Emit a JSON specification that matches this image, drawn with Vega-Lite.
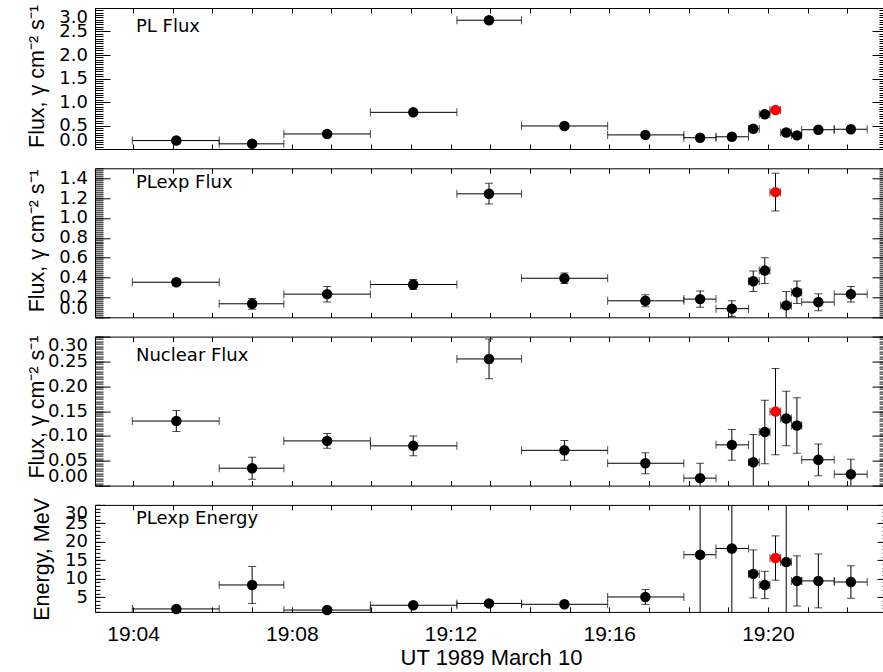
{
  "$schema": "https://vega.github.io/schema/vega-lite/v6.json",
  "padding": {"left": 25, "top": 4, "right": 0, "bottom": 0},
  "background": "white",
  "config": {
    "font": "Liberation Sans",
    "view": {"stroke": "black", "strokeWidth": 1},
    "scale": {"continuousPadding": 0},
    "axis": {"domain": false, "grid": false, "tickColor": "black", "tickWidth": 1, "labelColor": "black", "titleColor": "black", "titleFontWeight": "normal"},
    "text": {"font": "DejaVu Sans", "fontSize": 18, "color": "black", "align": "left", "baseline": "alphabetic"}
  },
  "datasets": {
    "p1": [
      {"xc": 5.09, "xlo": 3.98, "xhi": 6.17, "v": 0.18, "lo": 0.16, "hi": 0.20, "k": "b"},
      {"xc": 7.00, "xlo": 6.17, "xhi": 7.80, "v": 0.11, "lo": 0.09, "hi": 0.13, "k": "b"},
      {"xc": 8.89, "xlo": 7.80, "xhi": 9.98, "v": 0.32, "lo": 0.30, "hi": 0.34, "k": "b"},
      {"xc": 11.06, "xlo": 9.98, "xhi": 12.16, "v": 0.78, "lo": 0.76, "hi": 0.80, "k": "b"},
      {"xc": 12.97, "xlo": 12.16, "xhi": 13.79, "v": 2.74, "lo": 2.71, "hi": 2.77, "k": "b"},
      {"xc": 14.87, "xlo": 13.79, "xhi": 15.96, "v": 0.49, "lo": 0.47, "hi": 0.51, "k": "b"},
      {"xc": 16.91, "xlo": 15.96, "xhi": 17.88, "v": 0.30, "lo": 0.28, "hi": 0.32, "k": "b"},
      {"xc": 18.29, "xlo": 17.88, "xhi": 18.69, "v": 0.24, "lo": 0.21, "hi": 0.27, "k": "b"},
      {"xc": 19.09, "xlo": 18.69, "xhi": 19.51, "v": 0.26, "lo": 0.23, "hi": 0.29, "k": "b"},
      {"xc": 19.63, "xlo": 19.51, "xhi": 19.78, "v": 0.43, "lo": 0.39, "hi": 0.47, "k": "b"},
      {"xc": 19.92, "xlo": 19.78, "xhi": 20.05, "v": 0.74, "lo": 0.70, "hi": 0.78, "k": "b"},
      {"xc": 20.19, "xlo": 20.05, "xhi": 20.32, "v": 0.83, "lo": 0.78, "hi": 0.88, "k": "r"},
      {"xc": 20.46, "xlo": 20.32, "xhi": 20.59, "v": 0.35, "lo": 0.31, "hi": 0.39, "k": "b"},
      {"xc": 20.73, "xlo": 20.59, "xhi": 20.85, "v": 0.29, "lo": 0.25, "hi": 0.33, "k": "b"},
      {"xc": 21.27, "xlo": 20.85, "xhi": 21.67, "v": 0.41, "lo": 0.38, "hi": 0.44, "k": "b"},
      {"xc": 22.09, "xlo": 21.67, "xhi": 22.50, "v": 0.42, "lo": 0.39, "hi": 0.45, "k": "b"}
    ],
    "p2": [
      {"xc": 5.09, "xlo": 3.98, "xhi": 6.17, "v": 0.353, "lo": 0.32, "hi": 0.385, "k": "b"},
      {"xc": 7.00, "xlo": 6.17, "xhi": 7.80, "v": 0.136, "lo": 0.08, "hi": 0.19, "k": "b"},
      {"xc": 8.89, "xlo": 7.80, "xhi": 9.98, "v": 0.233, "lo": 0.155, "hi": 0.31, "k": "b"},
      {"xc": 11.06, "xlo": 9.98, "xhi": 12.16, "v": 0.33, "lo": 0.28, "hi": 0.38, "k": "b"},
      {"xc": 12.97, "xlo": 12.16, "xhi": 13.79, "v": 1.243, "lo": 1.14, "hi": 1.35, "k": "b"},
      {"xc": 14.87, "xlo": 13.79, "xhi": 15.96, "v": 0.393, "lo": 0.34, "hi": 0.445, "k": "b"},
      {"xc": 16.91, "xlo": 15.96, "xhi": 17.88, "v": 0.166, "lo": 0.106, "hi": 0.226, "k": "b"},
      {"xc": 18.29, "xlo": 17.88, "xhi": 18.69, "v": 0.183, "lo": 0.10, "hi": 0.266, "k": "b"},
      {"xc": 19.09, "xlo": 18.69, "xhi": 19.51, "v": 0.087, "lo": 0.007, "hi": 0.167, "k": "b"},
      {"xc": 19.63, "xlo": 19.51, "xhi": 19.78, "v": 0.363, "lo": 0.26, "hi": 0.466, "k": "b"},
      {"xc": 19.92, "xlo": 19.78, "xhi": 20.05, "v": 0.47, "lo": 0.34, "hi": 0.60, "k": "b"},
      {"xc": 20.19, "xlo": 20.05, "xhi": 20.32, "v": 1.26, "lo": 1.07, "hi": 1.45, "k": "r"},
      {"xc": 20.46, "xlo": 20.32, "xhi": 20.59, "v": 0.12, "lo": -0.02, "hi": 0.26, "k": "b"},
      {"xc": 20.73, "xlo": 20.59, "xhi": 20.85, "v": 0.253, "lo": 0.14, "hi": 0.366, "k": "b"},
      {"xc": 21.27, "xlo": 20.85, "xhi": 21.67, "v": 0.153, "lo": 0.066, "hi": 0.236, "k": "b"},
      {"xc": 22.09, "xlo": 21.67, "xhi": 22.50, "v": 0.233, "lo": 0.153, "hi": 0.31, "k": "b"}
    ],
    "p3": [
      {"xc": 5.09, "xlo": 3.98, "xhi": 6.17, "v": 0.13, "lo": 0.109, "hi": 0.151, "k": "b"},
      {"xc": 7.00, "xlo": 6.17, "xhi": 7.80, "v": 0.035, "lo": 0.013, "hi": 0.057, "k": "b"},
      {"xc": 8.89, "xlo": 7.80, "xhi": 9.98, "v": 0.09, "lo": 0.075, "hi": 0.105, "k": "b"},
      {"xc": 11.06, "xlo": 9.98, "xhi": 12.16, "v": 0.08, "lo": 0.06, "hi": 0.10, "k": "b"},
      {"xc": 12.97, "xlo": 12.16, "xhi": 13.79, "v": 0.255, "lo": 0.215, "hi": 0.295, "k": "b"},
      {"xc": 14.87, "xlo": 13.79, "xhi": 15.96, "v": 0.071, "lo": 0.051, "hi": 0.091, "k": "b"},
      {"xc": 16.91, "xlo": 15.96, "xhi": 17.88, "v": 0.045, "lo": 0.024, "hi": 0.066, "k": "b"},
      {"xc": 18.29, "xlo": 17.88, "xhi": 18.69, "v": 0.015, "lo": -0.015, "hi": 0.045, "k": "b"},
      {"xc": 19.09, "xlo": 18.69, "xhi": 19.51, "v": 0.082, "lo": 0.051, "hi": 0.113, "k": "b"},
      {"xc": 19.63, "xlo": 19.51, "xhi": 19.78, "v": 0.047, "lo": -0.009, "hi": 0.103, "k": "b"},
      {"xc": 19.92, "xlo": 19.78, "xhi": 20.05, "v": 0.108, "lo": 0.044, "hi": 0.172, "k": "b"},
      {"xc": 20.19, "xlo": 20.05, "xhi": 20.32, "v": 0.149, "lo": 0.062, "hi": 0.236, "k": "r"},
      {"xc": 20.46, "xlo": 20.32, "xhi": 20.59, "v": 0.135, "lo": 0.08, "hi": 0.19, "k": "b"},
      {"xc": 20.73, "xlo": 20.59, "xhi": 20.85, "v": 0.121, "lo": 0.065, "hi": 0.177, "k": "b"},
      {"xc": 21.27, "xlo": 20.85, "xhi": 21.67, "v": 0.052, "lo": 0.02, "hi": 0.084, "k": "b"},
      {"xc": 22.09, "xlo": 21.67, "xhi": 22.50, "v": 0.023, "lo": -0.007, "hi": 0.053, "k": "b"}
    ],
    "p4": [
      {"xc": 5.09, "xlo": 3.98, "xhi": 6.17, "v": 1.8, "lo": 1.3, "hi": 2.3, "k": "b"},
      {"xc": 7.00, "xlo": 6.17, "xhi": 7.80, "v": 8.3, "lo": 3.3, "hi": 13.3, "k": "b"},
      {"xc": 8.89, "xlo": 7.80, "xhi": 9.98, "v": 1.5, "lo": 1.0, "hi": 2.0, "k": "b"},
      {"xc": 11.06, "xlo": 9.98, "xhi": 12.16, "v": 2.8, "lo": 2.2, "hi": 3.4, "k": "b"},
      {"xc": 12.97, "xlo": 12.16, "xhi": 13.79, "v": 3.3, "lo": 2.6, "hi": 4.0, "k": "b"},
      {"xc": 14.87, "xlo": 13.79, "xhi": 15.96, "v": 3.06, "lo": 2.4, "hi": 3.7, "k": "b"},
      {"xc": 16.91, "xlo": 15.96, "xhi": 17.88, "v": 5.05, "lo": 3.05, "hi": 7.05, "k": "b"},
      {"xc": 18.29, "xlo": 17.88, "xhi": 18.69, "v": 16.5, "lo": -3.5, "hi": 36.5, "k": "b"},
      {"xc": 19.09, "xlo": 18.69, "xhi": 19.51, "v": 18.2, "lo": -1.8, "hi": 38.2, "k": "b"},
      {"xc": 19.63, "xlo": 19.51, "xhi": 19.78, "v": 11.3, "lo": 4.8, "hi": 17.8, "k": "b"},
      {"xc": 19.92, "xlo": 19.78, "xhi": 20.05, "v": 8.3, "lo": 4.6, "hi": 12.0, "k": "b"},
      {"xc": 20.19, "xlo": 20.05, "xhi": 20.32, "v": 15.6, "lo": 9.6, "hi": 21.6, "k": "r"},
      {"xc": 20.46, "xlo": 20.32, "xhi": 20.59, "v": 14.5, "lo": -5.5, "hi": 34.5, "k": "b"},
      {"xc": 20.73, "xlo": 20.59, "xhi": 20.85, "v": 9.4, "lo": 2.6, "hi": 16.2, "k": "b"},
      {"xc": 21.27, "xlo": 20.85, "xhi": 21.67, "v": 9.4, "lo": 2.1, "hi": 16.7, "k": "b"},
      {"xc": 22.09, "xlo": 21.67, "xhi": 22.50, "v": 9.1, "lo": 4.7, "hi": 13.5, "k": "b"}
    ]
  },
  "vconcat": [
    {
      "width": 792, "height": 141,
      "data": {"name": "p1"},
      "layer": [
        {"mark": {"type": "errorbar", "ticks": true, "size": 8, "thickness": 1, "color": "black", "clip": true},
         "encoding": {
           "x": {"field": "xlo", "type": "quantitative", "scale": {"domain": [3.04, 23], "nice": false, "zero": false, "padding": 0}, "axis": {"orient": "bottom", "values": [4,5,6,7,8,9,10,11,12,13,14,15,16,17,18,19,20,21,22], "tickSize": -5, "labels": false, "title": null}},
           "x2": {"field": "xhi"},
           "y": {"field": "v", "type": "quantitative", "scale": {"domain": [0, 3], "nice": false, "zero": false, "padding": 0}, "axis": {"orient": "left", "values": [0,0.5,1,1.5,2,2.5,3], "format": ".1f", "tickSize": -15, "labelPadding": 22.5, "labelFont": "DejaVu Sans", "labelFontSize": 18, "labelFlush": true, "labelOverlap": false, "title": "Flux, γ cm⁻² s⁻¹", "titleFont": "Liberation Sans", "titleFontSize": 21.5, "titleAngle": 270, "titleX": -52, "titleY": 68, "titleAlign": "center", "titleBaseline": "alphabetic"}}
         }},
        {"mark": {"type": "errorbar", "ticks": true, "size": 8, "thickness": 1, "color": "black", "clip": true},
         "encoding": {
           "x": {"field": "xc", "type": "quantitative", "scale": {"domain": [3.04, 23], "nice": false, "zero": false, "padding": 0}, "axis": {"orient": "top", "values": [4,5,6,7,8,9,10,11,12,13,14,15,16,17,18,19,20,21,22], "tickSize": -5, "labels": false, "title": null}},
           "y": {"field": "lo", "type": "quantitative", "scale": {"domain": [0, 3], "nice": false, "zero": false, "padding": 0}, "axis": {"orient": "right", "values": [0,0.5,1,1.5,2,2.5,3], "tickSize": -15, "labels": false, "title": null}},
           "y2": {"field": "hi"}
         }},
        {"transform": [{"filter": "datum.k == 'b'"}],
         "mark": {"type": "circle", "size": 110, "color": "black", "opacity": 1},
         "encoding": {
           "x": {"field": "xc", "type": "quantitative", "scale": {"domain": [3.04, 23], "nice": false, "zero": false}, "axis": null},
           "y": {"field": "v", "type": "quantitative", "scale": {"domain": [0, 3], "nice": false, "zero": false}, "axis": {"orient": "left", "values": [0,0.05,0.1,0.15,0.2,0.25,0.3,0.35,0.4,0.45,0.5,0.55,0.6,0.65,0.7,0.75,0.8,0.85,0.9,0.95,1,1.05,1.1,1.15,1.2,1.25,1.3,1.35,1.4,1.45,1.5,1.55,1.6,1.65,1.7,1.75,1.8,1.85,1.9,1.95,2,2.05,2.1,2.15,2.2,2.25,2.3,2.35,2.4,2.45,2.5,2.55,2.6,2.65,2.7,2.75,2.8,2.85,2.9,2.95,3], "tickSize": -8, "labels": false, "title": null}}
         }},
        {"transform": [{"filter": "datum.k == 'r'"}],
         "mark": {"type": "circle", "size": 110, "color": "#ff0000", "opacity": 1},
         "encoding": {
           "x": {"field": "xc", "type": "quantitative", "scale": {"domain": [3.04, 23], "nice": false, "zero": false}, "axis": null},
           "y": {"field": "v", "type": "quantitative", "scale": {"domain": [0, 3], "nice": false, "zero": false}, "axis": {"orient": "right", "values": [0,0.05,0.1,0.15,0.2,0.25,0.3,0.35,0.4,0.45,0.5,0.55,0.6,0.65,0.7,0.75,0.8,0.85,0.9,0.95,1,1.05,1.1,1.15,1.2,1.25,1.3,1.35,1.4,1.45,1.5,1.55,1.6,1.65,1.7,1.75,1.8,1.85,1.9,1.95,2,2.05,2.1,2.15,2.2,2.25,2.3,2.35,2.4,2.45,2.5,2.55,2.6,2.65,2.7,2.75,2.8,2.85,2.9,2.95,3], "tickSize": -8, "labels": false, "title": null}}
         }},
        {"data": {"values": [{"label": "PL Flux"}]},
         "mark": {"type": "text", "dx": 41, "dy": 24},
         "encoding": {
           "x": {"datum": 3.04, "type": "quantitative", "scale": {"domain": [3.04, 23], "nice": false, "zero": false}, "axis": null},
           "y": {"datum": 3, "type": "quantitative", "scale": {"domain": [0, 3], "nice": false, "zero": false}, "axis": null},
           "text": {"field": "label"}
         }}
      ],
      "resolve": {"axis": {"x": "independent", "y": "independent"}}
    },
    {
      "width": 792, "height": 149,
      "data": {"name": "p2"},
      "layer": [
        {"mark": {"type": "errorbar", "ticks": true, "size": 8, "thickness": 1, "color": "black", "clip": true},
         "encoding": {
           "x": {"field": "xlo", "type": "quantitative", "scale": {"domain": [3.04, 23], "nice": false, "zero": false, "padding": 0}, "axis": {"orient": "bottom", "values": [4,5,6,7,8,9,10,11,12,13,14,15,16,17,18,19,20,21,22], "tickSize": -5, "labels": false, "title": null}},
           "x2": {"field": "xhi"},
           "y": {"field": "v", "type": "quantitative", "scale": {"domain": [0, 1.5], "nice": false, "zero": false, "padding": 0}, "axis": {"orient": "left", "values": [0,0.2,0.4,0.6,0.8,1,1.2,1.4], "format": ".1f", "tickSize": -15, "labelPadding": 22.5, "labelFont": "DejaVu Sans", "labelFontSize": 18, "labelFlush": true, "labelOverlap": false, "title": "Flux, γ cm⁻² s⁻¹", "titleFont": "Liberation Sans", "titleFontSize": 21.5, "titleAngle": 270, "titleX": -52, "titleY": 72, "titleAlign": "center", "titleBaseline": "alphabetic"}}
         }},
        {"mark": {"type": "errorbar", "ticks": true, "size": 8, "thickness": 1, "color": "black", "clip": true},
         "encoding": {
           "x": {"field": "xc", "type": "quantitative", "scale": {"domain": [3.04, 23], "nice": false, "zero": false, "padding": 0}, "axis": {"orient": "top", "values": [4,5,6,7,8,9,10,11,12,13,14,15,16,17,18,19,20,21,22], "tickSize": -5, "labels": false, "title": null}},
           "y": {"field": "lo", "type": "quantitative", "scale": {"domain": [0, 1.5], "nice": false, "zero": false, "padding": 0}, "axis": {"orient": "right", "values": [0,0.2,0.4,0.6,0.8,1,1.2,1.4], "tickSize": -15, "labels": false, "title": null}},
           "y2": {"field": "hi"}
         }},
        {"transform": [{"filter": "datum.k == 'b'"}],
         "mark": {"type": "circle", "size": 110, "color": "black", "opacity": 1},
         "encoding": {
           "x": {"field": "xc", "type": "quantitative", "scale": {"domain": [3.04, 23], "nice": false, "zero": false}, "axis": null},
           "y": {"field": "v", "type": "quantitative", "scale": {"domain": [0, 1.5], "nice": false, "zero": false}, "axis": {"orient": "left", "values": [0,0.02,0.04,0.06,0.08,0.1,0.12,0.14,0.16,0.18,0.2,0.22,0.24,0.26,0.28,0.3,0.32,0.34,0.36,0.38,0.4,0.42,0.44,0.46,0.48,0.5,0.52,0.54,0.56,0.58,0.6,0.62,0.64,0.66,0.68,0.7,0.72,0.74,0.76,0.78,0.8,0.82,0.84,0.86,0.88,0.9,0.92,0.94,0.96,0.98,1,1.02,1.04,1.06,1.08,1.1,1.12,1.14,1.16,1.18,1.2,1.22,1.24,1.26,1.28,1.3,1.32,1.34,1.36,1.38,1.4,1.42,1.44,1.46,1.48,1.5], "tickSize": -8, "labels": false, "title": null}}
         }},
        {"transform": [{"filter": "datum.k == 'r'"}],
         "mark": {"type": "circle", "size": 110, "color": "#ff0000", "opacity": 1},
         "encoding": {
           "x": {"field": "xc", "type": "quantitative", "scale": {"domain": [3.04, 23], "nice": false, "zero": false}, "axis": null},
           "y": {"field": "v", "type": "quantitative", "scale": {"domain": [0, 1.5], "nice": false, "zero": false}, "axis": {"orient": "right", "values": [0,0.02,0.04,0.06,0.08,0.1,0.12,0.14,0.16,0.18,0.2,0.22,0.24,0.26,0.28,0.3,0.32,0.34,0.36,0.38,0.4,0.42,0.44,0.46,0.48,0.5,0.52,0.54,0.56,0.58,0.6,0.62,0.64,0.66,0.68,0.7,0.72,0.74,0.76,0.78,0.8,0.82,0.84,0.86,0.88,0.9,0.92,0.94,0.96,0.98,1,1.02,1.04,1.06,1.08,1.1,1.12,1.14,1.16,1.18,1.2,1.22,1.24,1.26,1.28,1.3,1.32,1.34,1.36,1.38,1.4,1.42,1.44,1.46,1.48,1.5], "tickSize": -8, "labels": false, "title": null}}
         }},
        {"data": {"values": [{"label": "PLexp Flux"}]},
         "mark": {"type": "text", "dx": 41, "dy": 20},
         "encoding": {
           "x": {"datum": 3.04, "type": "quantitative", "scale": {"domain": [3.04, 23], "nice": false, "zero": false}, "axis": null},
           "y": {"datum": 1.5, "type": "quantitative", "scale": {"domain": [0, 1.5], "nice": false, "zero": false}, "axis": null},
           "text": {"field": "label"}
         }}
      ],
      "resolve": {"axis": {"x": "independent", "y": "independent"}}
    },
    {
      "width": 792, "height": 149,
      "data": {"name": "p3"},
      "layer": [
        {"mark": {"type": "errorbar", "ticks": true, "size": 8, "thickness": 1, "color": "black", "clip": true},
         "encoding": {
           "x": {"field": "xlo", "type": "quantitative", "scale": {"domain": [3.04, 23], "nice": false, "zero": false, "padding": 0}, "axis": {"orient": "bottom", "values": [4,5,6,7,8,9,10,11,12,13,14,15,16,17,18,19,20,21,22], "tickSize": -5, "labels": false, "title": null}},
           "x2": {"field": "xhi"},
           "y": {"field": "v", "type": "quantitative", "scale": {"domain": [0, 0.3], "nice": false, "zero": false, "padding": 0}, "axis": {"orient": "left", "values": [0,0.05,0.1,0.15,0.2,0.25,0.3], "format": ".2f", "tickSize": -15, "labelPadding": 22.5, "labelFont": "DejaVu Sans", "labelFontSize": 18, "labelFlush": true, "labelOverlap": false, "title": "Flux, γ cm⁻² s⁻¹", "titleFont": "Liberation Sans", "titleFontSize": 21.5, "titleAngle": 270, "titleX": -52, "titleY": 70, "titleAlign": "center", "titleBaseline": "alphabetic"}}
         }},
        {"mark": {"type": "errorbar", "ticks": true, "size": 8, "thickness": 1, "color": "black", "clip": true},
         "encoding": {
           "x": {"field": "xc", "type": "quantitative", "scale": {"domain": [3.04, 23], "nice": false, "zero": false, "padding": 0}, "axis": {"orient": "top", "values": [4,5,6,7,8,9,10,11,12,13,14,15,16,17,18,19,20,21,22], "tickSize": -5, "labels": false, "title": null}},
           "y": {"field": "lo", "type": "quantitative", "scale": {"domain": [0, 0.3], "nice": false, "zero": false, "padding": 0}, "axis": {"orient": "right", "values": [0,0.05,0.1,0.15,0.2,0.25,0.3], "tickSize": -15, "labels": false, "title": null}},
           "y2": {"field": "hi"}
         }},
        {"transform": [{"filter": "datum.k == 'b'"}],
         "mark": {"type": "circle", "size": 110, "color": "black", "opacity": 1},
         "encoding": {
           "x": {"field": "xc", "type": "quantitative", "scale": {"domain": [3.04, 23], "nice": false, "zero": false}, "axis": null},
           "y": {"field": "v", "type": "quantitative", "scale": {"domain": [0, 0.3], "nice": false, "zero": false}, "axis": {"orient": "left", "values": [0,0.005,0.01,0.015,0.02,0.025,0.03,0.035,0.04,0.045,0.05,0.055,0.06,0.065,0.07,0.075,0.08,0.085,0.09,0.095,0.1,0.105,0.11,0.115,0.12,0.125,0.13,0.135,0.14,0.145,0.15,0.155,0.16,0.165,0.17,0.175,0.18,0.185,0.19,0.195,0.2,0.205,0.21,0.215,0.22,0.225,0.23,0.235,0.24,0.245,0.25,0.255,0.26,0.265,0.27,0.275,0.28,0.285,0.29,0.295,0.3], "tickSize": -8, "labels": false, "title": null}}
         }},
        {"transform": [{"filter": "datum.k == 'r'"}],
         "mark": {"type": "circle", "size": 110, "color": "#ff0000", "opacity": 1},
         "encoding": {
           "x": {"field": "xc", "type": "quantitative", "scale": {"domain": [3.04, 23], "nice": false, "zero": false}, "axis": null},
           "y": {"field": "v", "type": "quantitative", "scale": {"domain": [0, 0.3], "nice": false, "zero": false}, "axis": {"orient": "right", "values": [0,0.005,0.01,0.015,0.02,0.025,0.03,0.035,0.04,0.045,0.05,0.055,0.06,0.065,0.07,0.075,0.08,0.085,0.09,0.095,0.1,0.105,0.11,0.115,0.12,0.125,0.13,0.135,0.14,0.145,0.15,0.155,0.16,0.165,0.17,0.175,0.18,0.185,0.19,0.195,0.2,0.205,0.21,0.215,0.22,0.225,0.23,0.235,0.24,0.245,0.25,0.255,0.26,0.265,0.27,0.275,0.28,0.285,0.29,0.295,0.3], "tickSize": -8, "labels": false, "title": null}}
         }},
        {"data": {"values": [{"label": "Nuclear Flux"}]},
         "mark": {"type": "text", "dx": 41, "dy": 24.5},
         "encoding": {
           "x": {"datum": 3.04, "type": "quantitative", "scale": {"domain": [3.04, 23], "nice": false, "zero": false}, "axis": null},
           "y": {"datum": 0.3, "type": "quantitative", "scale": {"domain": [0, 0.3], "nice": false, "zero": false}, "axis": null},
           "text": {"field": "label"}
         }}
      ],
      "resolve": {"axis": {"x": "independent", "y": "independent"}}
    },
    {
      "width": 792, "height": 107,
      "data": {"name": "p4"},
      "layer": [
        {"mark": {"type": "errorbar", "ticks": true, "size": 8, "thickness": 1, "color": "black", "clip": true},
         "encoding": {
           "x": {"field": "xlo", "type": "quantitative", "scale": {"domain": [3.04, 23], "nice": false, "zero": false, "padding": 0}, "axis": {"orient": "bottom", "values": [4,5,6,7,8,9,10,11,12,13,14,15,16,17,18,19,20,21,22], "tickSize": -5, "labelPadding": 16.5, "labelExpr": "datum.value % 4 == 0 ? '19:' + (datum.value < 10 ? '0' : '') + datum.value : ''", "labelFont": "Liberation Sans", "labelFontSize": 21, "labelOverlap": false, "labelFlush": false, "labelBound": false, "title": "UT 1989 March 10", "titleFont": "Liberation Sans", "titleFontSize": 22, "titleY": 53, "titleBaseline": "alphabetic"}},
           "x2": {"field": "xhi"},
           "y": {"field": "v", "type": "quantitative", "scale": {"domain": [1, 30], "nice": false, "zero": false, "padding": 0}, "axis": {"orient": "left", "values": [5,10,15,20,25,30], "format": "d", "tickSize": -10, "labelPadding": 17.5, "labelFont": "DejaVu Sans", "labelFontSize": 18, "labelFlush": true, "labelOverlap": false, "title": "Energy, MeV", "titleFont": "Liberation Sans", "titleFontSize": 21.5, "titleAngle": 270, "titleX": -47, "titleY": 54, "titleAlign": "center", "titleBaseline": "alphabetic"}}
         }},
        {"mark": {"type": "errorbar", "ticks": true, "size": 8, "thickness": 1, "color": "black", "clip": true},
         "encoding": {
           "x": {"field": "xc", "type": "quantitative", "scale": {"domain": [3.04, 23], "nice": false, "zero": false, "padding": 0}, "axis": {"orient": "top", "values": [4,5,6,7,8,9,10,11,12,13,14,15,16,17,18,19,20,21,22], "tickSize": -5, "labels": false, "title": null}},
           "y": {"field": "lo", "type": "quantitative", "scale": {"domain": [1, 30], "nice": false, "zero": false, "padding": 0}, "axis": {"orient": "right", "values": [5,10,15,20,25,30], "tickSize": -10, "labels": false, "title": null}},
           "y2": {"field": "hi"}
         }},
        {"transform": [{"filter": "datum.k == 'b'"}],
         "mark": {"type": "circle", "size": 110, "color": "black", "opacity": 1},
         "encoding": {
           "x": {"field": "xc", "type": "quantitative", "scale": {"domain": [3.04, 23], "nice": false, "zero": false}, "axis": null},
           "y": {"field": "v", "type": "quantitative", "scale": {"domain": [1, 30], "nice": false, "zero": false}, "axis": {"orient": "left", "values": [1,2,3,4,5,6,7,8,9,10,11,12,13,14,15,16,17,18,19,20,21,22,23,24,25,26,27,28,29,30], "tickSize": -5, "labels": false, "title": null}}
         }},
        {"transform": [{"filter": "datum.k == 'r'"}],
         "mark": {"type": "circle", "size": 110, "color": "#ff0000", "opacity": 1},
         "encoding": {
           "x": {"field": "xc", "type": "quantitative", "scale": {"domain": [3.04, 23], "nice": false, "zero": false}, "axis": null},
           "y": {"field": "v", "type": "quantitative", "scale": {"domain": [1, 30], "nice": false, "zero": false}, "axis": {"orient": "right", "values": [1,2,3,4,5,6,7,8,9,10,11,12,13,14,15,16,17,18,19,20,21,22,23,24,25,26,27,28,29,30], "tickSize": -5, "labels": false, "title": null}}
         }},
        {"data": {"values": [{"label": "PLexp Energy"}]},
         "mark": {"type": "text", "dx": 41, "dy": 19.5},
         "encoding": {
           "x": {"datum": 3.04, "type": "quantitative", "scale": {"domain": [3.04, 23], "nice": false, "zero": false}, "axis": null},
           "y": {"datum": 30, "type": "quantitative", "scale": {"domain": [1, 30], "nice": false, "zero": false}, "axis": null},
           "text": {"field": "label"}
         }}
      ],
      "resolve": {"axis": {"x": "independent", "y": "independent"}}
    }
  ],
  "spacing": 19.3,
  "bounds": "flush"
}
